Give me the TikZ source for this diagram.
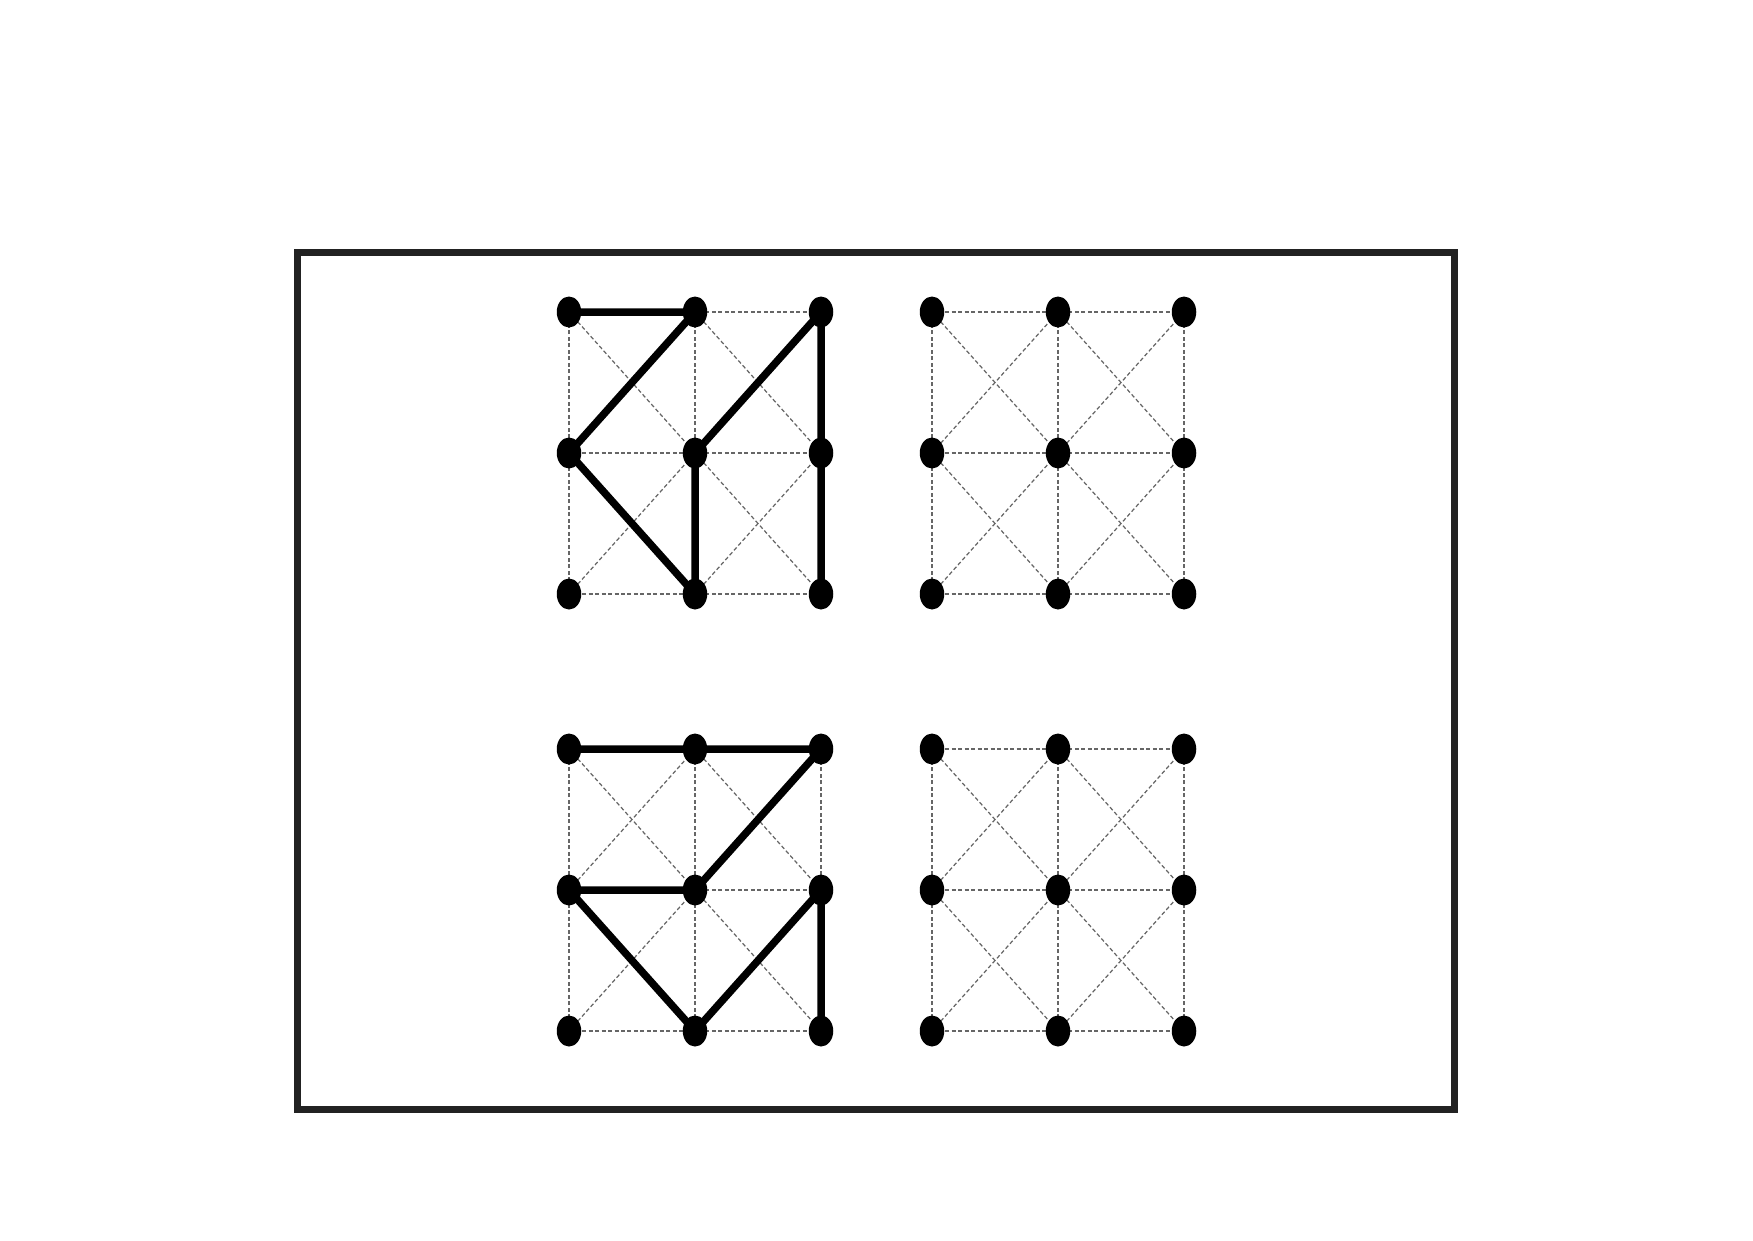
\documentclass[tikz,border=0pt]{standalone}
\usetikzlibrary{shapes.geometric}
\pgfdeclarelayer{background}
\pgfsetlayers{background,main}
\definecolor{framegray}{HTML}{222222}
\def\dx{1.26}
\def\dy{1.41}
\begin{document}
\begin{tikzpicture}[
  dot/.style={ellipse,fill=black,inner sep=0pt,minimum width=0.245cm,minimum height=0.31cm},
  gridline/.style={black!60,line width=0.35pt,dash pattern=on 0.04cm off 0.025cm},
  boldedge/.style={black,line width=0.075cm,line join=round},
  frame/.style={framegray,line width=0.07cm}]
\useasboundingbox (0,0) rectangle (17.53,12.40);
\draw[frame] (2.975,1.305) rectangle (14.545,9.875);
% dots of the four 3x3 grids
\foreach \g/\ox/\oy in {a/5.69/6.46,b/9.32/6.46,c/5.69/2.09,d/9.32/2.09}
  \foreach \i in {0,1,2}
    \foreach \j in {0,1,2}
      \node[dot] (\g-\i-\j) at ({\ox+\i*\dx},{\oy+\j*\dy}) {};
\begin{pgfonlayer}{background}
% dashed grid lines
\foreach \g in {a,b,c,d} {
  \foreach \j in {0,1,2} {
    \draw[gridline] (\g-0-\j.center) -- (\g-2-\j.center);
    \draw[gridline] (\g-\j-0.center) -- (\g-\j-2.center);
  }
  \foreach \i/\k in {0/1,1/2}
    \foreach \j/\l in {0/1,1/2} {
      \draw[gridline] (\g-\i-\j.center) -- (\g-\k-\l.center);
      \draw[gridline] (\g-\i-\l.center) -- (\g-\k-\j.center);
    }
}
% thick paths
\draw[boldedge] (a-0-2.center) -- (a-1-2.center) -- (a-0-1.center) -- (a-1-0.center)
  -- (a-1-1.center) -- (a-2-2.center) -- (a-2-1.center) -- (a-2-0.center);
\draw[boldedge] (c-0-2.center) -- (c-1-2.center) -- (c-2-2.center) -- (c-1-1.center)
  -- (c-0-1.center) -- (c-1-0.center) -- (c-2-1.center) -- (c-2-0.center);
\end{pgfonlayer}
\end{tikzpicture}
\end{document}
